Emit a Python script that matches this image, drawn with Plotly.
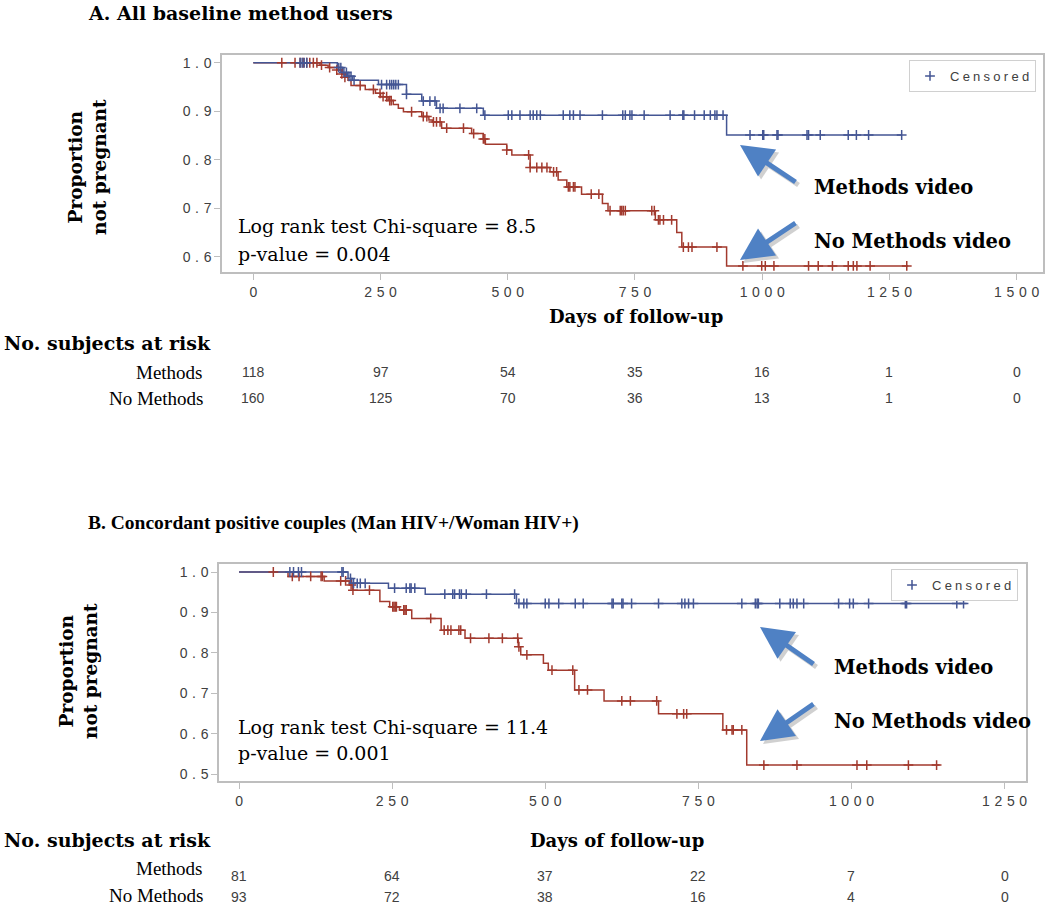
import numpy as np
import plotly.graph_objects as go

W, H = 1050, 908
BLUE = "#445694"
RED = "#A23A2E"
ARROW = "#4F81C4"
SP = "\u2004"   # letter spacing for SAS-like tick text
SP2 = "\u2005"

# ---------------- Panel A data ----------------
a_m_times = [0, 165, 175, 185, 195, 246, 301, 331, 360, 452, 930, 1274]
a_m_surv = [1.0, 0.99, 0.98, 0.972, 0.964, 0.955, 0.935, 0.921, 0.906, 0.892, 0.851, 0.851]
a_m_cens = [92, 96, 100, 105, 168, 172, 178, 183, 188, 192, 198, 252, 262, 268, 272, 276, 280, 285,
            301, 334, 347, 357, 367, 373, 406, 439, 455, 501, 508, 524, 544, 550, 557, 564, 609, 622,
            629, 642, 686, 726, 731, 740, 744, 768, 819, 844, 846, 867, 886, 898, 907, 911, 923, 976,
            1001, 1003, 1029, 1031, 1088, 1091, 1114, 1169, 1185, 1209, 1274]

a_n_times = [0, 131, 147, 164, 174, 180, 186, 192, 220, 240, 250, 265, 275, 285, 295, 331, 345, 352,
             370, 429, 452, 456, 498, 508, 544, 583, 599, 616, 645, 686, 697, 790, 832, 842, 930, 1287]
a_n_surv = [1.0, 0.995, 0.99, 0.985, 0.977, 0.97, 0.964, 0.953, 0.945, 0.937, 0.93, 0.922, 0.914,
            0.906, 0.899, 0.889, 0.882, 0.878, 0.865, 0.854, 0.843, 0.832, 0.82, 0.81, 0.784, 0.775,
            0.758, 0.744, 0.729, 0.71, 0.695, 0.676, 0.65, 0.62, 0.581, 0.581]
a_n_cens = [56, 82, 92, 98, 105, 111, 118, 125, 134, 150, 164, 174, 180, 210, 236, 249, 255, 262, 268,
            271, 311, 334, 341, 354, 360, 367, 380, 413, 433, 452, 455, 498, 541, 544, 557, 567, 577,
            590, 596, 619, 622, 629, 632, 664, 679, 701, 721, 724, 727, 731, 783, 788, 796, 799, 806,
            822, 845, 855, 862, 911, 962, 999, 1006, 1023, 1091, 1110, 1138, 1169, 1179, 1186, 1212, 1284]

a_ticks = [0, 250, 500, 750, 1000, 1250, 1500]
a_yticks = [0.6, 0.7, 0.8, 0.9, 1.0]
a_risk_methods = [118, 97, 54, 35, 16, 1, 0]
a_risk_nomethods = [160, 125, 70, 36, 13, 1, 0]

# ---------------- Panel B data ----------------
b_m_times = [0, 178, 184, 244, 304, 453, 1188]
b_m_surv = [1.0, 0.984, 0.972, 0.96, 0.945, 0.922, 0.922]
b_m_cens = [83, 89, 97, 102, 168, 170, 182, 187, 193, 198, 206, 254, 273, 279, 281, 287, 336, 349,
            352, 360, 363, 371, 404, 450, 457, 465, 470, 500, 506, 522, 549, 562, 609, 611, 625, 627,
            641, 685, 723, 728, 734, 742, 821, 843, 846, 848, 883, 900, 905, 911, 922, 979, 997, 1003,
            1028, 1088, 1090, 1172, 1183]

b_n_times = [0, 80, 139, 180, 186, 230, 246, 262, 282, 330, 369, 456, 460, 497, 505, 548, 596, 685,
             790, 829, 1144]
b_n_surv = [1.0, 0.989, 0.978, 0.968, 0.955, 0.927, 0.914, 0.906, 0.885, 0.856, 0.836, 0.815, 0.795,
            0.774, 0.757, 0.708, 0.681, 0.649, 0.609, 0.522, 0.522]
b_n_cens = [56, 87, 98, 117, 134, 136, 166, 174, 183, 186, 213, 251, 253, 255, 257, 269, 271, 273,
            313, 335, 341, 346, 359, 362, 378, 408, 430, 455, 457, 470, 511, 545, 555, 569, 625,
            639, 682, 715, 726, 731, 796, 805, 807, 821, 857, 911, 1009, 1025, 1093, 1139]

b_ticks = [0, 250, 500, 750, 1000, 1250]
b_yticks = [0.5, 0.6, 0.7, 0.8, 0.9, 1.0]
b_risk_methods = [81, 64, 37, 22, 7, 0]
b_risk_nomethods = [93, 72, 38, 16, 4, 0]


def step_at(times, surv, t):
    idx = np.searchsorted(np.array(times), np.array(t), side="right") - 1
    return list(np.array(surv)[idx])


def spaced(s, sp=SP):
    return sp.join(str(s))


def px(x):
    return x / W


def py(y):
    return 1 - y / H


fig = go.Figure()

panels = [
    ("x", "y", a_m_times, a_m_surv, a_m_cens, a_n_times, a_n_surv, a_n_cens, "legend"),
    ("x2", "y2", b_m_times, b_m_surv, b_m_cens, b_n_times, b_n_surv, b_n_cens, "legend2"),
]
for xa, ya, mt, ms, mc, nt, ns, nc, leg in panels:
    fig.add_trace(go.Scatter(x=nt, y=ns, mode="lines", line=dict(color=RED, width=1.5, shape="hv"),
                             xaxis=xa, yaxis=ya, showlegend=False, hoverinfo="skip"))
    fig.add_trace(go.Scatter(x=mt, y=ms, mode="lines", line=dict(color=BLUE, width=1.5, shape="hv"),
                             xaxis=xa, yaxis=ya, showlegend=False, hoverinfo="skip"))
    fig.add_trace(go.Scatter(x=nc, y=step_at(nt, ns, nc), mode="markers",
                             marker=dict(symbol="cross-thin", size=7, line=dict(color=RED, width=1.5)),
                             xaxis=xa, yaxis=ya, showlegend=False, hoverinfo="skip"))
    fig.add_trace(go.Scatter(x=mc, y=step_at(mt, ms, mc), mode="markers",
                             name=spaced("Censored", SP2),
                             marker=dict(symbol="cross-thin", size=7, line=dict(color=BLUE, width=1.5)),
                             xaxis=xa, yaxis=ya, showlegend=True, legend=leg, hoverinfo="skip"))

axis_style = dict(showline=True, linecolor="#BEBEBE", linewidth=1.5, mirror=True, ticks="outside",
                  ticklen=6, tickcolor="#BEBEBE", showgrid=False, zeroline=False,
                  tickfont=dict(family="Liberation Sans", size=14, color="#404040"))

fig.update_layout(
    width=W, height=H, margin=dict(l=0, r=0, t=0, b=0),
    paper_bgcolor="white", plot_bgcolor="white",
    xaxis=dict(domain=[px(222), px(1043)], range=[-61.5, 1551.7], anchor="y",
               tickvals=a_ticks, ticktext=[spaced(v) for v in a_ticks], **axis_style),
    yaxis=dict(domain=[py(272), py(55)], range=[0.5685, 1.016], anchor="x",
               tickvals=a_yticks, ticktext=[spaced("%.1f" % v) for v in a_yticks], **axis_style),
    xaxis2=dict(domain=[px(219), px(1026)], range=[-32.7, 1285], anchor="y2",
                tickvals=b_ticks, ticktext=[spaced(v) for v in b_ticks], **axis_style),
    yaxis2=dict(domain=[py(781), py(564)], range=[0.4827, 1.0198], anchor="x2",
                tickvals=b_yticks, ticktext=[spaced("%.1f" % v) for v in b_yticks], **axis_style),
    legend=dict(x=px(1036), y=py(60), xanchor="right", yanchor="top", bordercolor="#D0D0D0",
                borderwidth=1, bgcolor="white", itemwidth=30,
                font=dict(family="Liberation Sans", size=13, color="#404040")),
    legend2=dict(x=px(1018), y=py(569), xanchor="right", yanchor="top", bordercolor="#D0D0D0",
                 borderwidth=1, bgcolor="white", itemwidth=30,
                 font=dict(family="Liberation Sans", size=13, color="#404040")),
)

SERIF = "Liberation Serif"
DSERIF = "DejaVu Serif"
ann = []


def text(x, y, s, size, bold=False, xanchor="left", angle=0, color="black", family=DSERIF):
    ann.append(dict(x=px(x), y=py(y), xref="paper", yref="paper", text=("<b>%s</b>" % s) if bold else s,
                    showarrow=False, xanchor=xanchor, yanchor="middle", textangle=angle,
                    font=dict(family=family, size=size, color=color)))


# Panel A texts
text(86, 13, "A. All baseline method users", 19, bold=True)
text(87, 167, "Proportion<br>not pregnant", 18.5, bold=True, xanchor="center", angle=-90)
text(236, 226, "Log rank test Chi-square = 8.5", 19)
text(236, 254, "p-value = 0.004", 19)
text(812, 187, "Methods video", 19.5, bold=True)
text(812, 241, "No Methods video", 19.5, bold=True)
text(636, 316, "Days of follow-up", 18, bold=True, xanchor="center")
text(2, 343, "No. subjects at risk", 19, bold=True)
text(205, 372, "Methods", 19, xanchor="right", family=SERIF)
text(205, 399, "No Methods", 19, xanchor="right", family=SERIF)

# Panel B texts
text(86, 523, "B. Concordant positive couples (Man HIV+/Woman HIV+)", 19.5, bold=True, family=SERIF)
text(78, 671, "Proportion<br>not pregnant", 18.5, bold=True, xanchor="center", angle=-90)
text(236, 727, "Log rank test Chi-square = 11.4", 19)
text(236, 753, "p-value = 0.001", 19)
text(832, 667, "Methods video", 19.5, bold=True)
text(832, 721, "No Methods video", 19.5, bold=True)
text(617, 840, "Days of follow-up", 18, bold=True, xanchor="center")
text(2, 840, "No. subjects at risk", 19, bold=True)
text(205, 868, "Methods", 19, xanchor="right", family=SERIF)
text(205, 895, "No Methods", 19, xanchor="right", family=SERIF)

# at-risk numbers placed through the x axes
risk_font = dict(family="Liberation Sans", size=14, color="#404040")
for d, m, n in zip(a_ticks, a_risk_methods, a_risk_nomethods):
    for val, yy in ((m, 372), (n, 398)):
        ann.append(dict(x=d, y=py(yy), xref="x", yref="paper", text=str(val), showarrow=False,
                        xanchor="center", yanchor="middle", font=risk_font))
for d, m, n in zip(b_ticks, b_risk_methods, b_risk_nomethods):
    for val, yy in ((m, 876), (n, 897)):
        ann.append(dict(x=d, y=py(yy), xref="x2", yref="paper", text=str(val), showarrow=False,
                        xanchor="center", yanchor="middle", font=risk_font))


def arrow(tip, tail):
    for off, col in (((3, 3), "rgba(0,0,0,0.18)"), ((0, 0), ARROW)):
        ann.append(dict(x=px(tip[0] + off[0]), y=py(tip[1] + off[1]), xref="paper", yref="paper",
                        ax=tail[0] - tip[0], ay=tail[1] - tip[1], text="", showarrow=True,
                        arrowhead=2, arrowsize=1.3, arrowwidth=5, arrowcolor=col))


arrow((740, 145), (797, 183))
arrow((740, 260), (797, 222))
arrow((760, 627), (815, 665))
arrow((760, 741), (815, 703))

fig.update_layout(annotations=ann)
fig.write_html("out.html", config={"displayModeBar": False},
               post_script="document.body.style.margin='0px';")
